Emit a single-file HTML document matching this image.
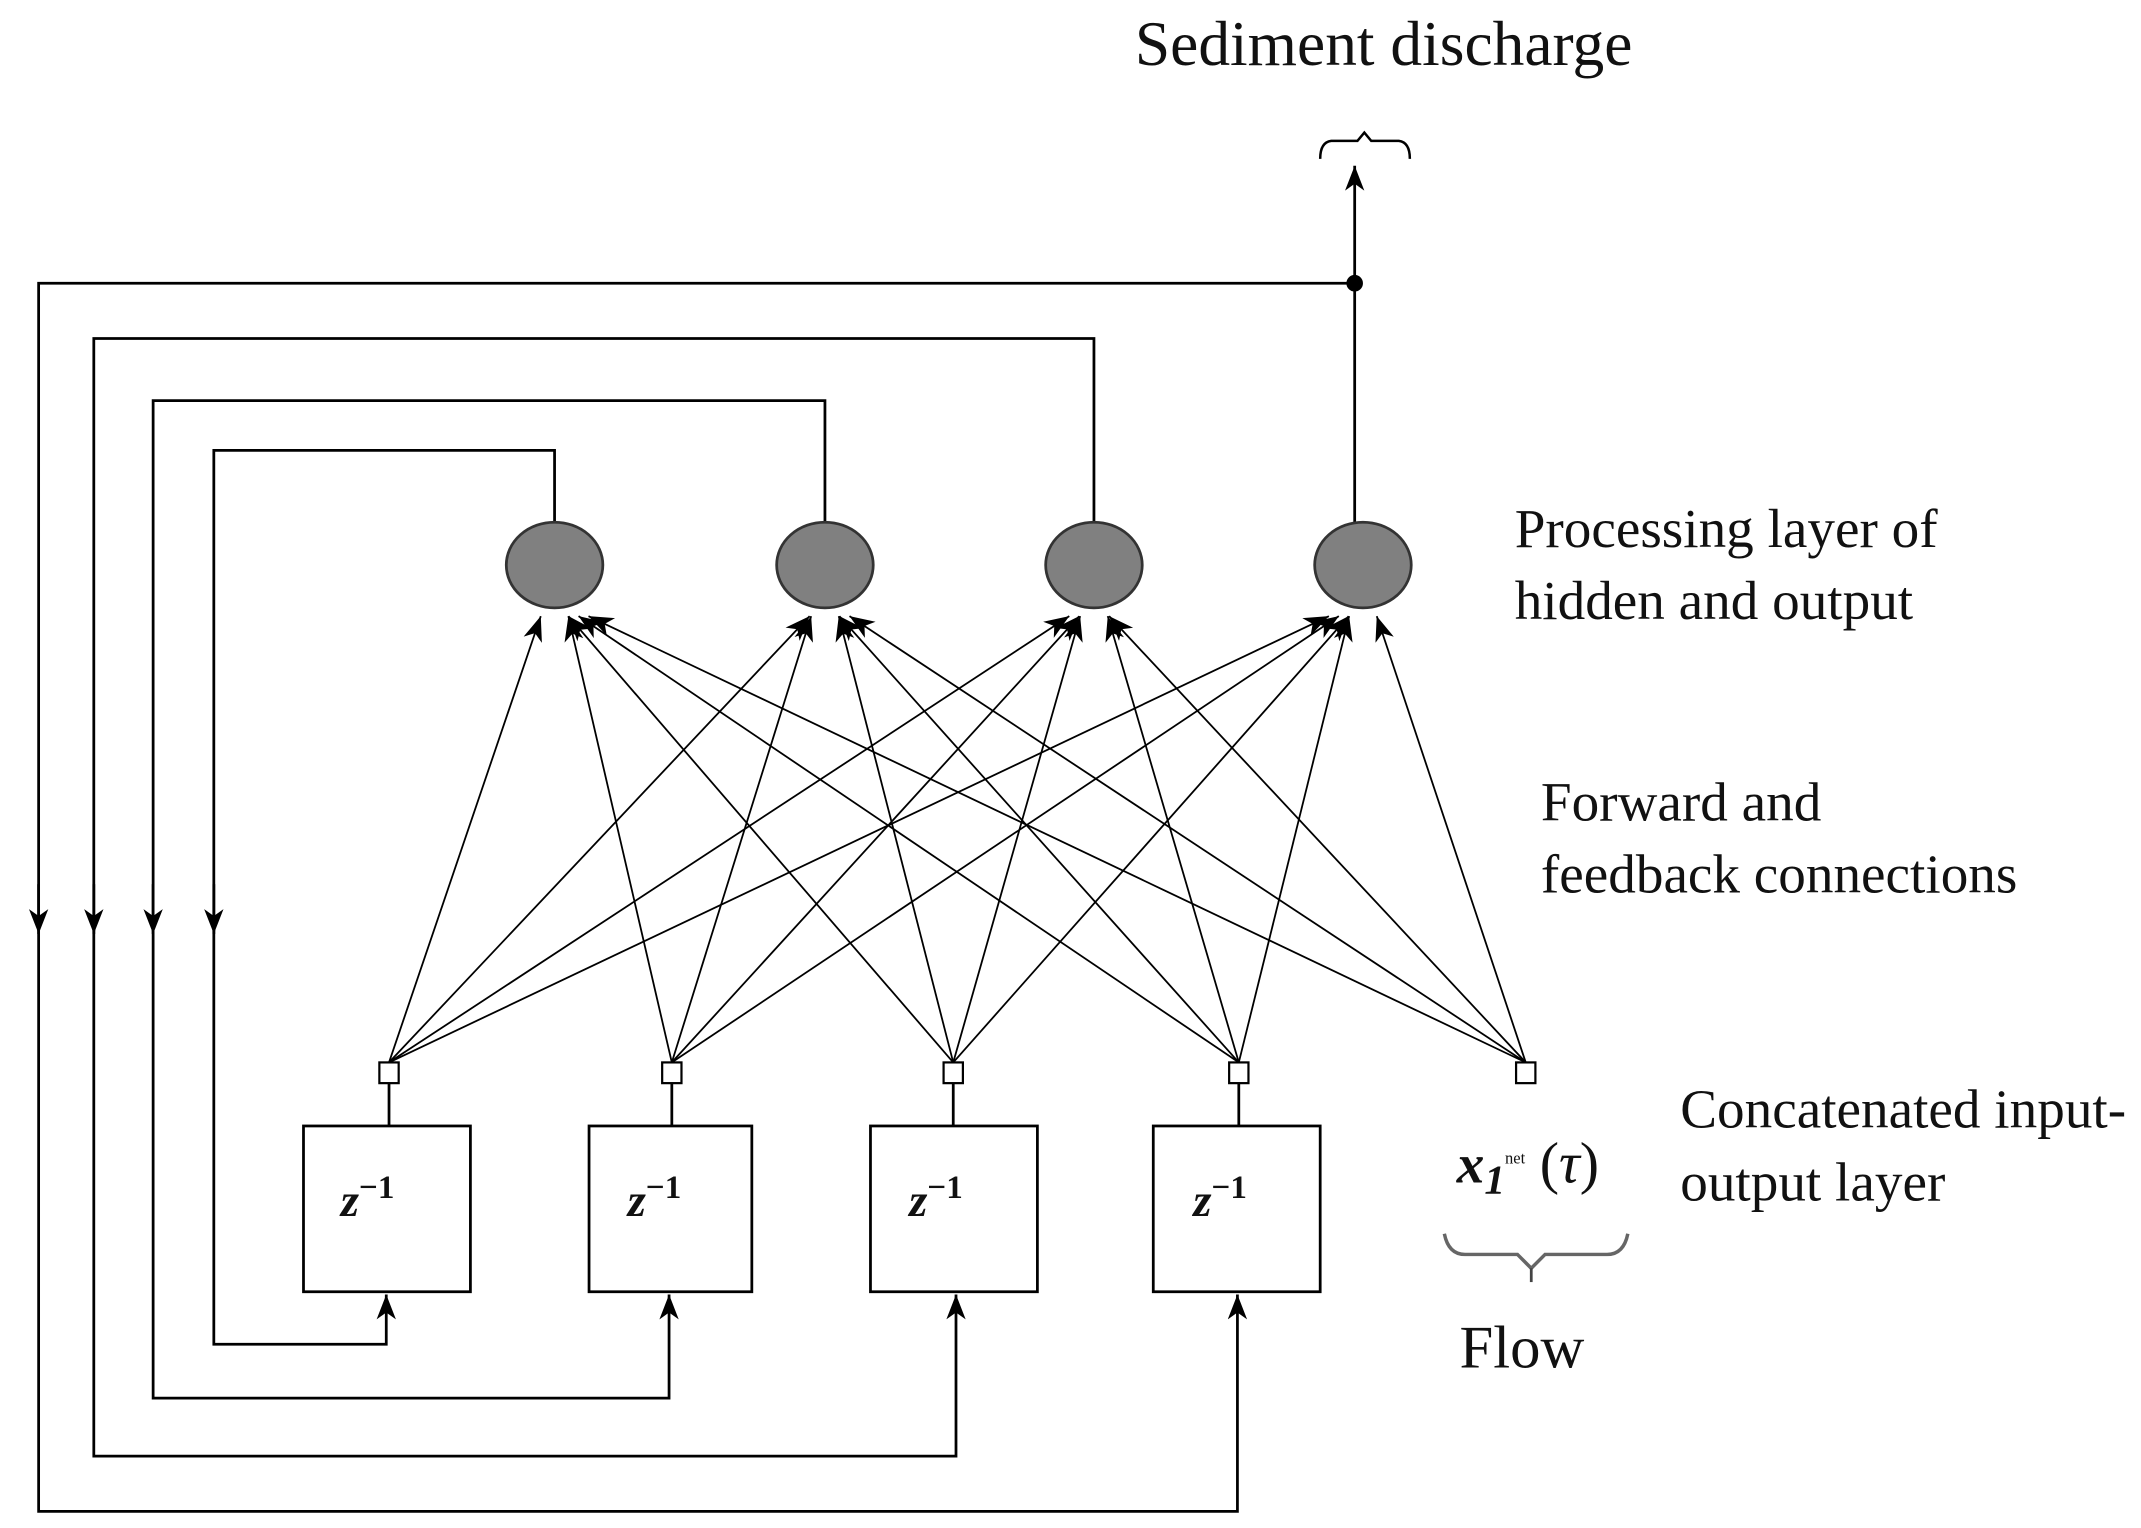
<!DOCTYPE html>
<html><head><meta charset="utf-8"><style>
html,body{margin:0;padding:0;background:#fff;}
svg{display:block;}
text{font-family:"Liberation Serif",serif;fill:#111;}
</style></head><body>
<svg width="2141" height="1528" viewBox="0 0 1552 1106" preserveAspectRatio="none" xmlns="http://www.w3.org/2000/svg">
<defs>
<marker id="a" markerUnits="userSpaceOnUse" markerWidth="20" markerHeight="16" refX="18" refY="7" orient="auto">
<path d="M0,0 L18,7 L0,14 L5,7 Z" fill="#000"/>
</marker>
</defs>
<g stroke="#000" stroke-width="2" fill="none">
<line x1="982" y1="378" x2="982" y2="120" marker-end="url(#a)"/>
<circle cx="982" cy="205" r="5" fill="#000"/>
<polyline points="982,205 28,205 28,1094 897,1094 897,937" marker-end="url(#a)"/>
<polyline points="793,378 793,245 68,245 68,1054 693,1054 693,937" marker-end="url(#a)"/>
<polyline points="598,378 598,290 111,290 111,1012 485,1012 485,937" marker-end="url(#a)"/>
<polyline points="402,378 402,326 155,326 155,973 280,973 280,937" marker-end="url(#a)"/>
<line x1="28" y1="640" x2="28" y2="676" marker-end="url(#a)"/>
<line x1="68" y1="640" x2="68" y2="676" marker-end="url(#a)"/>
<line x1="111" y1="640" x2="111" y2="676" marker-end="url(#a)"/>
<line x1="155" y1="640" x2="155" y2="676" marker-end="url(#a)"/>
<path d="M957,115 Q957,103 965,102 L984,102 L989,96 L994,102 L1014,102 Q1022,103 1022,115" stroke-width="1.8"/>
<path d="M1047,893 Q1050,908 1062,908 L1100,908 L1110,918 L1120,908 L1165,908 Q1177,908 1180,893" stroke="#666" stroke-width="2.5"/>
<line x1="1110" y1="918" x2="1110" y2="928" stroke="#444"/>
</g>
<g stroke="#000" stroke-width="1.3" fill="none" marker-end="url(#a)">
<line x1="282" y1="769" x2="392" y2="446"/>
<line x1="487" y1="769" x2="412" y2="446"/>
<line x1="691" y1="769" x2="412.1" y2="446"/>
<line x1="898" y1="769" x2="419.4" y2="446"/>
<line x1="1106" y1="769" x2="426.6" y2="446"/>
<line x1="282" y1="769" x2="586.9" y2="446"/>
<line x1="487" y1="769" x2="588" y2="446"/>
<line x1="691" y1="769" x2="608" y2="446"/>
<line x1="898" y1="769" x2="608.5" y2="446"/>
<line x1="1106" y1="769" x2="615.8" y2="446"/>
<line x1="282" y1="769" x2="775.1" y2="446"/>
<line x1="487" y1="769" x2="782.3" y2="446"/>
<line x1="691" y1="769" x2="783" y2="446"/>
<line x1="898" y1="769" x2="803" y2="446"/>
<line x1="1106" y1="769" x2="804" y2="446"/>
<line x1="282" y1="769" x2="963.3" y2="446"/>
<line x1="487" y1="769" x2="970.5" y2="446"/>
<line x1="691" y1="769" x2="977.6" y2="446"/>
<line x1="898" y1="769" x2="978" y2="446"/>
<line x1="1106" y1="769" x2="998" y2="446"/>
</g>
<g fill="#808080" stroke="#333" stroke-width="2">
<ellipse cx="402" cy="409" rx="35" ry="31"/>
<ellipse cx="598" cy="409" rx="35" ry="31"/>
<ellipse cx="793" cy="409" rx="35" ry="31"/>
<ellipse cx="988" cy="409" rx="35" ry="31"/>
</g>
<g stroke="#000" stroke-width="2" fill="#fff">
<line x1="282" y1="784" x2="282" y2="815"/>
<line x1="487" y1="784" x2="487" y2="815"/>
<line x1="691" y1="784" x2="691" y2="815"/>
<line x1="898" y1="784" x2="898" y2="815"/>
<rect x="220" y="815" width="121" height="120"/>
<rect x="427" y="815" width="118" height="120"/>
<rect x="631" y="815" width="121" height="120"/>
<rect x="836" y="815" width="121" height="120"/>
<rect x="275" y="769" width="14" height="15" stroke-width="1.6"/>
<rect x="480" y="769" width="14" height="15" stroke-width="1.6"/>
<rect x="684" y="769" width="14" height="15" stroke-width="1.6"/>
<rect x="891" y="769" width="14" height="15" stroke-width="1.6"/>
<rect x="1099" y="769" width="14" height="15" stroke-width="1.6"/>
</g>
<g font-size="34" font-weight="bold" font-style="italic">
<text x="247" y="880">z<tspan font-size="24" dy="-13" font-style="normal">−1</tspan></text>
<text x="455" y="880">z<tspan font-size="24" dy="-13" font-style="normal">−1</tspan></text>
<text x="659" y="880">z<tspan font-size="24" dy="-13" font-style="normal">−1</tspan></text>
<text x="865" y="880">z<tspan font-size="24" dy="-13" font-style="normal">−1</tspan></text>
</g>
<text x="1003" y="47" font-size="46" text-anchor="middle">Sediment discharge</text>
<text x="1098" y="396" font-size="40">Processing layer of</text>
<text x="1098" y="448" font-size="40">hidden and output</text>
<text x="1117" y="594" font-size="40">Forward and</text>
<text x="1117" y="646" font-size="40">feedback connections</text>
<text x="1218" y="816" font-size="40">Concatenated input-</text>
<text x="1218" y="869" font-size="40">output layer</text>
<text x="1056" y="856" font-size="40" font-weight="bold" font-style="italic">x<tspan font-size="30" dy="8">1</tspan><tspan font-size="12" dy="-22" font-style="normal" font-weight="normal">net</tspan><tspan font-size="42" dy="14" font-style="normal" font-weight="normal"> (</tspan><tspan font-size="42" font-style="italic" font-weight="normal">τ</tspan><tspan font-size="42" font-style="normal" font-weight="normal">)</tspan></text>
<text x="1058" y="990" font-size="44">Flow</text>
</svg>
</body></html>
